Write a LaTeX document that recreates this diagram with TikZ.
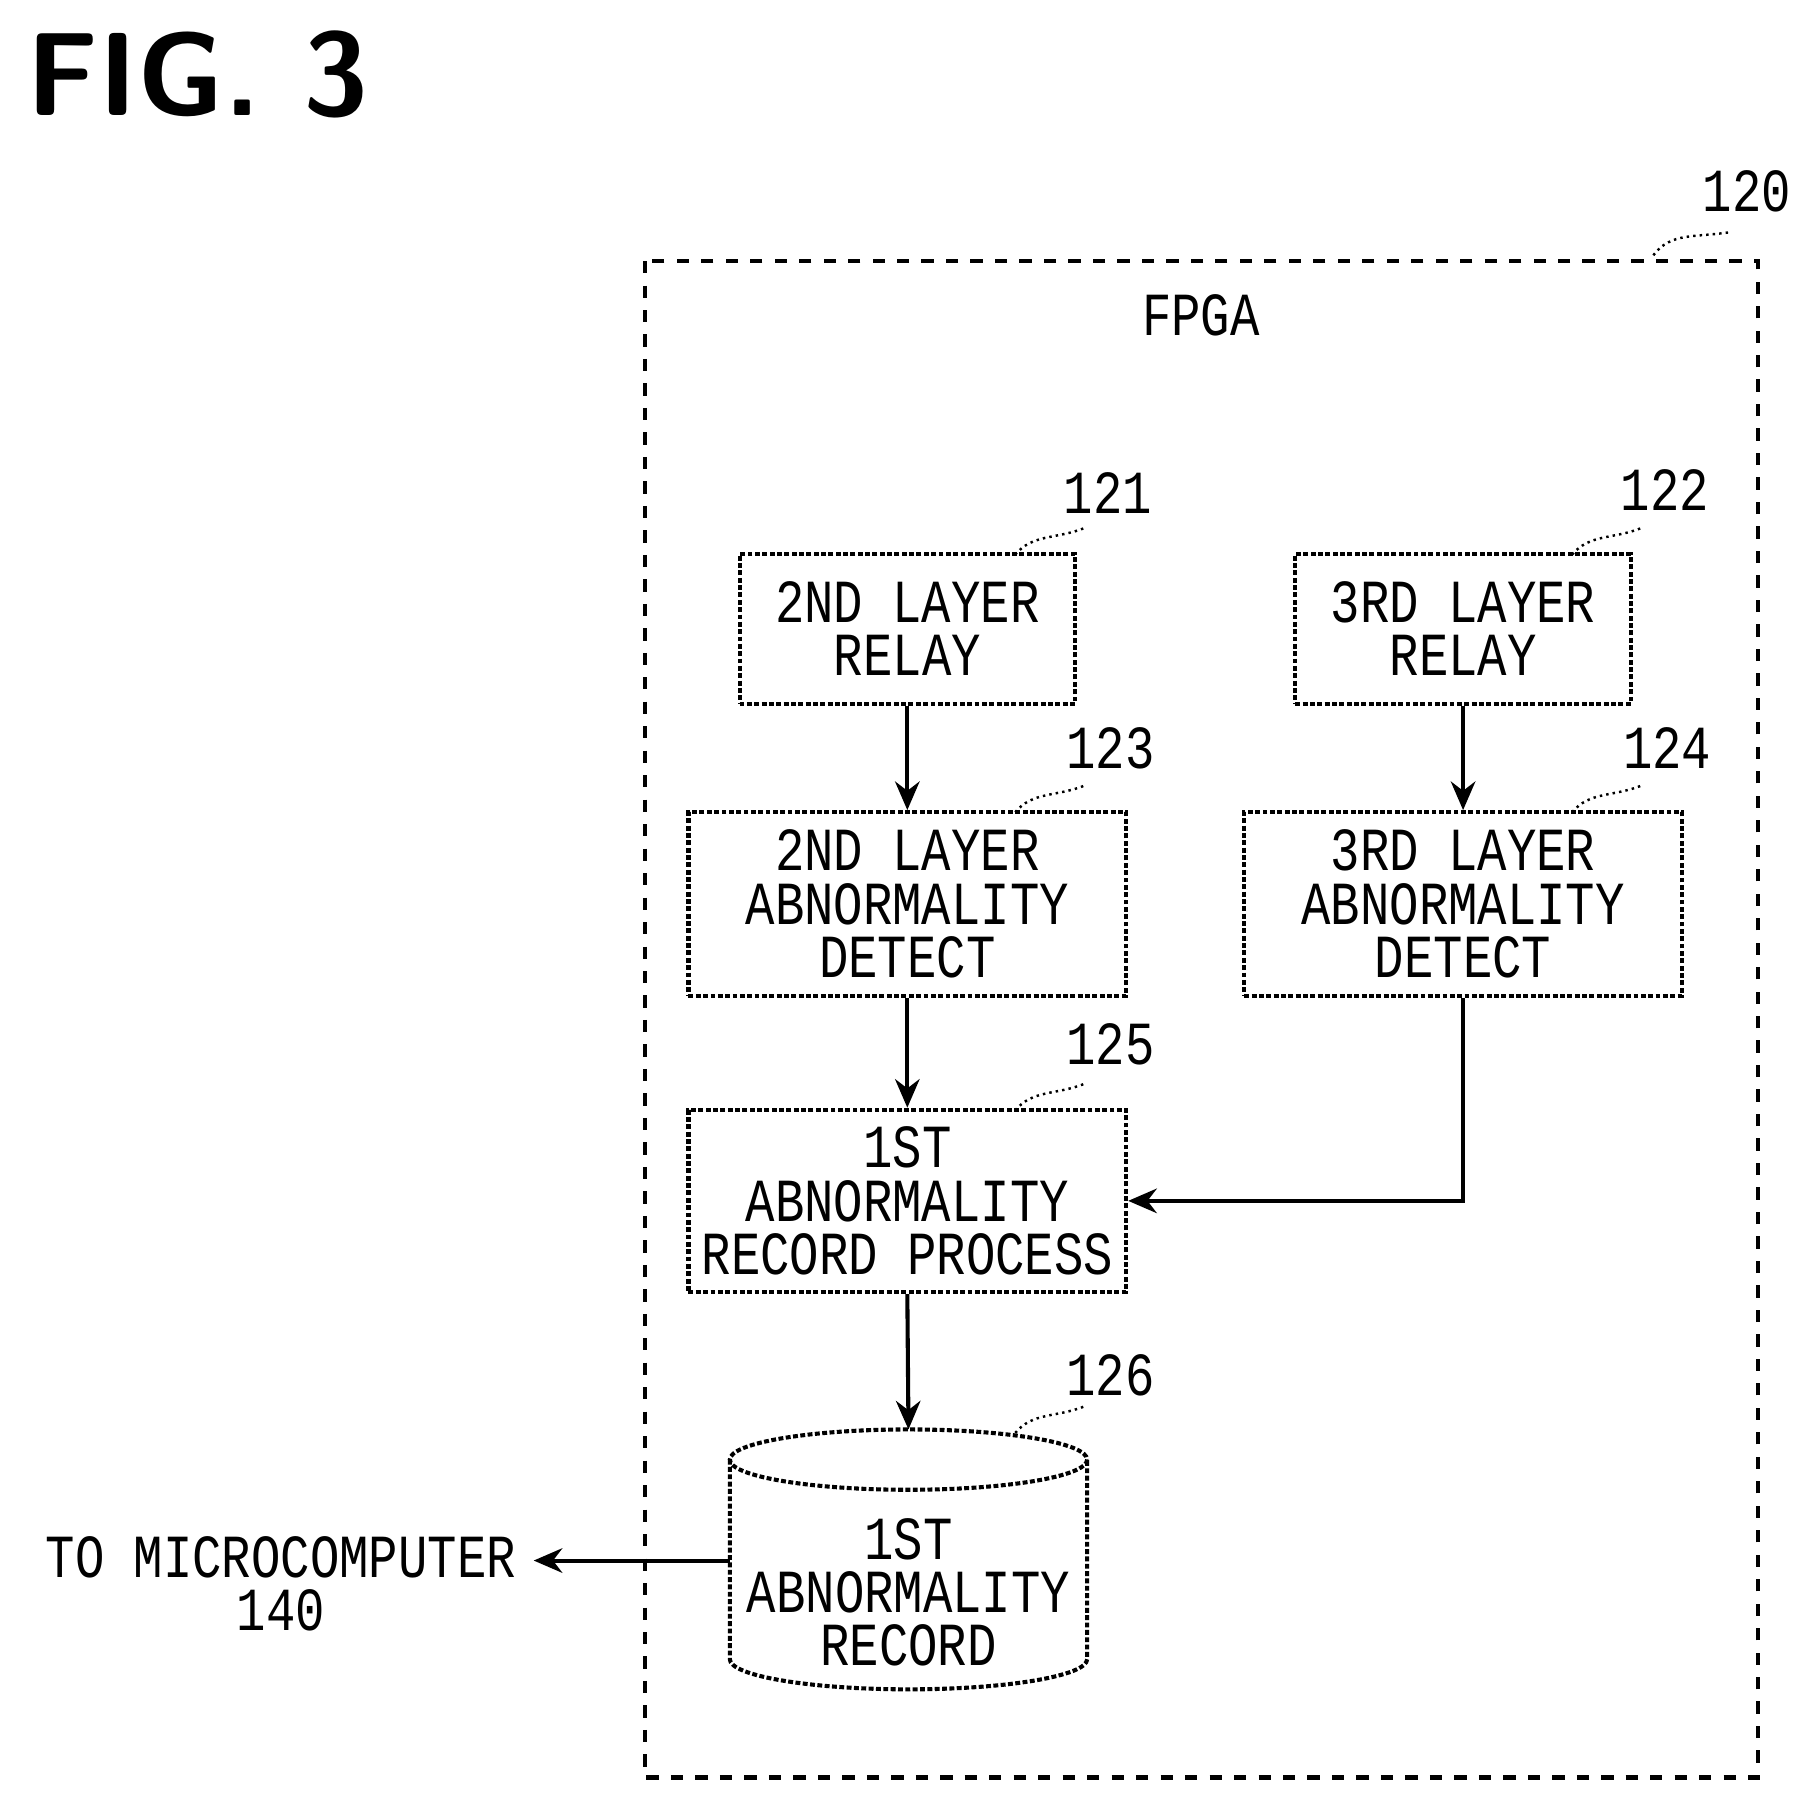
\documentclass[tikz,border=0pt]{standalone}
\usepackage{fontspec}
\setmonofont[FakeStretch=0.8]{Liberation Mono}
\usetikzlibrary{arrows.meta}
\tikzset{
  blk/.style={draw, densely dashed, dash pattern=on 1.2pt off 0.6pt, line width=1pt, align=center, font=\ttfamily\fontsize{15}{13}\selectfont, inner sep=0pt},
  lbl/.style={font=\ttfamily\fontsize{15}{13}\selectfont},
  flow/.style={line width=1pt, -{Stealth[length=7pt,width=6pt]}},
  lead/.style={line width=0.6pt, densely dotted}
}
\begin{document}
\begin{tikzpicture}[x=0.01cm,y=-0.01cm]
\useasboundingbox (0,0) rectangle (1560,1546);
\node[anchor=north west, font=\sffamily\bfseries\fontsize{29}{32}\selectfont] (fig) at (10,14) {FIG. 3};
% FPGA
\draw[dashed, line width=1pt] (556,225) rectangle (1515,1532);
\node[lbl] (fpga) at (1035,272) {FPGA};
\node[lbl, anchor=east] (n120) at (1556,165) {120};
\draw[lead] (1425,220) .. controls (1440,200) and (1460,205) .. (1492,200);
% boxes
\node[blk, minimum width=2.89cm, minimum height=1.29cm] (b121) at (782,542) {2ND LAYER\\RELAY};
\node[blk, minimum width=2.89cm, minimum height=1.29cm] (b122) at (1261,542) {3RD LAYER\\RELAY};
\node[blk, minimum width=3.77cm, minimum height=1.58cm] (b123) at (782,779) {2ND LAYER\\ABNORMALITY\\DETECT};
\node[blk, minimum width=3.77cm, minimum height=1.58cm] (b124) at (1261,779) {3RD LAYER\\ABNORMALITY\\DETECT};
\node[blk, minimum width=3.77cm, minimum height=1.57cm] (b125) at (782,1035) {1ST\\ABNORMALITY\\RECORD PROCESS};
% record cylinder
\node[align=center, font=\ttfamily\fontsize{15}{13}\selectfont, minimum width=3.08cm, minimum height=2.23cm] (b126) at (783,1372) {1ST\\ABNORMALITY\\RECORD};
\draw[densely dashed, dash pattern=on 1.2pt off 0.6pt, line width=1pt]
  (783,1258) ellipse (154 and 26)
  (629,1258) -- (629,1430) arc[start angle=180, end angle=0, x radius=154, y radius=26] -- (937,1258);
% numbers
\node[lbl] (n121) at (955,425) {121};
\node[lbl] (n122) at (1435,422) {122};
\node[lbl] (n123) at (957,645) {123};
\node[lbl] (n124) at (1437,645) {124};
\node[lbl] (n125) at (957,900) {125};
\node[lbl] (n126) at (957,1185) {126};
\draw[lead] (875,478) .. controls (890,460) and (910,465) .. (935,455);
\draw[lead] (1355,478) .. controls (1370,460) and (1390,465) .. (1415,455);
\draw[lead] (875,700) .. controls (890,682) and (910,687) .. (935,677);
\draw[lead] (1355,700) .. controls (1370,682) and (1390,687) .. (1415,677);
\draw[lead] (875,957) .. controls (890,939) and (910,944) .. (935,934);
\draw[lead] (875,1235) .. controls (890,1217) and (910,1222) .. (935,1212);
% flow
\draw[flow] (b121) -- (b123);
\draw[flow] (b122) -- (b124);
\draw[flow] (b123) -- (b125);
\draw[flow] (b124.south) |- (b125.east);
\draw[flow] (b125.south) -- (783,1232);
\node[lbl, align=center] (mc) at (242,1365) {TO MICROCOMPUTER\\140};
\draw[flow] (629,1345) -- (460,1345);
\end{tikzpicture}
\end{document}
